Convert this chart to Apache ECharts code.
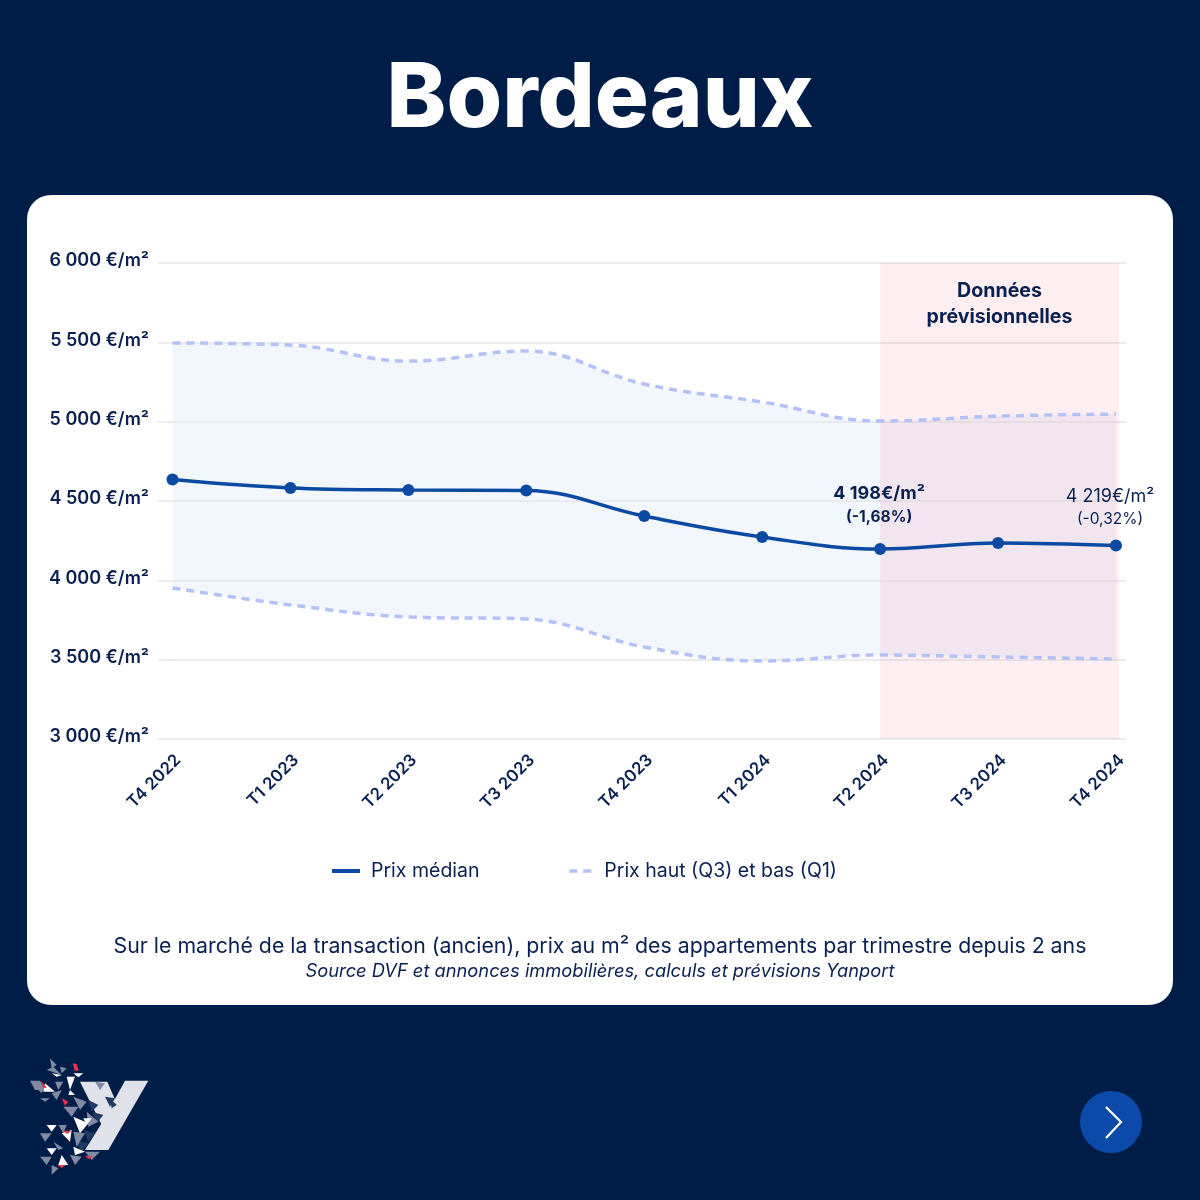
<!DOCTYPE html>
<html>
<head>
    <meta charset="utf-8">
    <title>Bordeaux</title>
    <script src="https://cdn.jsdelivr.net/npm/echarts@6/dist/echarts.min.js"></script>
    <style>
        html, body { margin: 0; padding: 0; background: #001d47; }
        #main { width: 1200px; height: 1200px; }
    </style>
</head>
<body>
    <div id="main"></div>
    <script type="text/javascript">
        var quarters = ['T4 2022', 'T1 2023', 'T2 2023', 'T3 2023', 'T4 2023', 'T1 2024', 'T2 2024', 'T3 2024', 'T4 2024'];
        var median = [4635, 4582, 4569, 4566, 4405, 4273, 4198, 4235, 4219];
        var q3 = [5496, 5483, 5382, 5445, 5237, 5124, 5004, 5035, 5048];
        var q1 = [3952, 3845, 3769, 3756, 3580, 3492, 3529, 3517, 3504];
        var yTicks = ['3 000', '3 500', '4 000', '4 500', '5 000', '5 500', '6 000'];
        var notes = { 6: ['4 198€/m²', '(-1,68%)'], 8: ['4 219€/m²', '(-0,32%)'] };

        var FONT = 'Inter';
        var NAVY = '#0a2050';

        function pairs(arr) {
            return arr.map(function (v, i) { return [i, v]; });
        }

        // median points, two of them carry a note
        var medianData = median.map(function (v, i) {
            var item = { value: [i, v] };
            if (notes[i]) {
                var bold = i === 6;
                item.label = {
                    show: true,
                    position: 'top',
                    distance: bold ? 15 : 9,
                    offset: [bold ? -1 : -6, 0],
                    formatter: '{a|' + notes[i][0] + '}\n{b|' + notes[i][1] + '}',
                    rich: {
                        a: { fontFamily: FONT, fontSize: 18, lineHeight: 24, color: NAVY, fontWeight: bold ? 700 : 400 },
                        b: { fontFamily: FONT, fontSize: 15.5, lineHeight: 22, color: NAVY, fontWeight: bold ? 700 : 400 }
                    }
                };
            }
            return item;
        });

        // logo, in zoom coordinates
        function logoPoly(points, fill) {
            return {
                type: 'polygon',
                shape: { points: points.map(function (p) { return [20 + p[0] / 3, 1040 + p[1] / 3]; }) },
                style: { fill: fill }
            };
        }
        var logoArms = [
            [[315, 122], [385, 122], [265, 330], [195, 330], [245, 250]],
            [[180, 125], [262, 125], [305, 225], [250, 265]]
        ];
        var logoDark = [
            [[255, 170], [285, 175], [270, 200]], [[205, 180], [235, 195], [215, 215]],
            [[270, 175], [290, 195], [275, 205]], [[215, 215], [250, 225], [230, 250]],
            [[190, 270], [225, 280], [205, 305]], [[165, 300], [205, 310], [185, 335]]
        ];
        var logoGrey = [
            [[90, 55], [110, 75], [95, 85]], [[80, 90], [125, 105], [100, 80]],
            [[30, 122], [60, 122], [75, 150], [45, 150]], [[105, 125], [130, 125], [115, 150]],
            [[120, 80], [140, 85], [125, 100]], [[95, 160], [125, 150], [110, 180]],
            [[60, 175], [90, 175], [75, 185]], [[160, 170], [200, 185], [180, 210]],
            [[130, 200], [175, 200], [155, 230]], [[200, 215], [235, 245], [205, 260]],
            [[160, 275], [195, 280], [170, 320]], [[60, 280], [95, 280], [75, 305]],
            [[115, 255], [140, 255], [130, 280]], [[100, 305], [130, 325], [115, 330]],
            [[60, 350], [95, 350], [80, 375]], [[150, 345], [185, 350], [165, 375]],
            [[195, 335], [240, 335], [215, 360]], [[95, 375], [115, 385], [95, 405]],
            [[45, 140], [75, 140], [65, 160]], [[225, 125], [255, 130], [240, 150]]
        ];
        var logoWhite = [
            [[95, 100], [125, 105], [110, 110]], [[160, 100], [190, 100], [175, 112]],
            [[140, 110], [165, 110], [150, 150]], [[75, 130], [105, 155], [70, 155]],
            [[160, 230], [205, 250], [180, 280]], [[80, 255], [110, 255], [95, 275]],
            [[125, 280], [155, 270], [150, 305]], [[80, 325], [110, 325], [95, 345]],
            [[125, 345], [145, 375], [115, 375]], [[150, 150], [165, 165], [145, 165]],
            [[190, 235], [215, 235], [200, 255]], [[160, 320], [195, 335], [165, 345]]
        ];
        var logoRed = [
            [[158, 70], [170, 72], [176, 92], [164, 92]], [[62, 122], [80, 142], [70, 146]],
            [[125, 175], [145, 185], [135, 197]], [[130, 272], [155, 272], [142, 282]],
            [[195, 348], [218, 348], [207, 358]], [[112, 375], [138, 375], [125, 384]]
        ];
        var logo = [];
        logoArms.forEach(function (p) { logo.push(logoPoly(p, '#dfe2e8')); });
        logoDark.forEach(function (p) { logo.push(logoPoly(p, '#1f3a63')); });
        logoGrey.forEach(function (p) { logo.push(logoPoly(p, '#7f8ba3')); });
        logoWhite.forEach(function (p) { logo.push(logoPoly(p, '#ffffff')); });
        logoRed.forEach(function (p) { logo.push(logoPoly(p, '#e8344e')); });

        var myChart = echarts.init(document.getElementById('main'));

        var option = {
            backgroundColor: '#001d47',
            animation: false,
            title: {
                text: 'Bordeaux',
                left: 'center',
                top: 50,
                textStyle: { fontFamily: FONT, fontSize: 90, fontWeight: 800, color: '#ffffff' }
            },
            grid: { left: 158, right: 74, top: 263, bottom: 461 },
            legend: {
                left: 325,
                top: 856,
                itemWidth: 28,
                itemHeight: 22,
                itemGap: 88,
                textStyle: { fontFamily: FONT, fontSize: 19.5, color: NAVY, fontWeight: 400 },
                data: [
                    { name: 'Prix médian', itemStyle: { opacity: 0 }, lineStyle: { width: 4 }, textStyle: { padding: [0, 0, 0, 6] } },
                    { name: 'Prix haut (Q3) et bas (Q1)', itemStyle: { opacity: 0 }, lineStyle: { width: 3.5 }, textStyle: { padding: [0, 0, 0, 2] } }
                ]
            },
            xAxis: {
                type: 'value',
                min: -0.123,
                max: 8.085,
                splitLine: { show: false },
                axisLine: { show: false },
                axisTick: { show: false },
                axisLabel: {
                    customValues: quarters.map(function (q, i) { return i; }),
                    formatter: function (v) { return quarters[v]; },
                    rotate: 45,
                    margin: 24,
                    padding: [0, -8, 0, 0],
                    fontFamily: FONT,
                    fontSize: 16.8,
                    fontWeight: 600,
                    color: NAVY
                }
            },
            yAxis: {
                type: 'value',
                min: 3000,
                max: 6000,
                interval: 500,
                z: 1.5,
                axisLine: { show: false },
                axisTick: { show: false },
                splitLine: { lineStyle: { color: '#e5e6ea', width: 1.5 } },
                axisLabel: {
                    formatter: function (v) { return yTicks[(v - 3000) / 500] + ' €/m²'; },
                    margin: 9,
                    verticalAlign: 'bottom',
                    padding: [0, 0, -7, 0],
                    fontFamily: FONT,
                    fontSize: 18,
                    fontWeight: 600,
                    color: NAVY
                }
            },
            series: [
                // band between Q1 and Q3: blue down from Q3, then white down from Q1
                {
                    name: 'bandTop',
                    type: 'line',
                    smooth: 0.4,
                    symbol: 'none',
                    z: 1,
                    lineStyle: { opacity: 0 },
                    areaStyle: { color: '#f2f6fd', opacity: 1, origin: 'start' },
                    data: pairs(q3)
                },
                {
                    name: 'bandBottom',
                    type: 'line',
                    smooth: 0.4,
                    symbol: 'none',
                    z: 1,
                    lineStyle: { opacity: 0 },
                    areaStyle: { color: '#ffffff', opacity: 1, origin: 'start' },
                    data: pairs(q1)
                },
                // forecast zone
                {
                    name: 'forecast',
                    type: 'line',
                    symbol: 'none',
                    data: [],
                    z: 3,
                    markArea: {
                        silent: true,
                        z: 3,
                        itemStyle: { color: 'rgba(238,80,95,0.09)' },
                        label: {
                            position: 'insideTop',
                            distance: 15,
                            formatter: 'Données\nprévisionnelles',
                            fontFamily: FONT,
                            fontSize: 19.6,
                            lineHeight: 26,
                            fontWeight: 700,
                            color: NAVY
                        },
                        data: [[{ xAxis: 6, yAxis: 6000 }, { xAxis: 8.025, yAxis: 3000 }]]
                    }
                },
                {
                    name: 'Prix haut (Q3) et bas (Q1)',
                    type: 'line',
                    smooth: 0.4,
                    symbol: 'none',
                    z: 4,
                    itemStyle: { color: '#b4c1f6' },
                    lineStyle: { color: '#b4c1f6', width: 3.5, type: [8, 6] },
                    data: pairs(q3)
                },
                {
                    name: 'Prix bas',
                    type: 'line',
                    smooth: 0.4,
                    symbol: 'none',
                    z: 4,
                    lineStyle: { color: '#b4c1f6', width: 3.5, type: [8, 6] },
                    data: pairs(q1)
                },
                {
                    name: 'Prix médian',
                    type: 'line',
                    smooth: 0.4,
                    symbol: 'circle',
                    symbolSize: 12,
                    showAllSymbol: true,
                    z: 5,
                    itemStyle: { color: '#0b4aa2' },
                    lineStyle: { color: '#0b4aa2', width: 3.5 },
                    data: medianData
                }
            ],
            graphic: [
                {
                    type: 'rect',
                    z: -1,
                    shape: { x: 27, y: 195, width: 1146, height: 810, r: 24 },
                    style: { fill: '#ffffff' }
                },
                {
                    type: 'text',
                    style: {
                        x: 600, y: 947, align: 'center', verticalAlign: 'middle',
                        text: 'Sur le marché de la transaction (ancien), prix au m² des appartements par trimestre depuis 2 ans',
                        font: '400 21.3px ' + FONT, fill: NAVY
                    }
                },
                {
                    type: 'text',
                    style: {
                        x: 600, y: 972, align: 'center', verticalAlign: 'middle',
                        text: 'Source DVF et annonces immobilières, calculs et prévisions Yanport',
                        font: 'italic 400 18.3px ' + FONT, fill: NAVY
                    }
                },
                { type: 'circle', shape: { cx: 1111, cy: 1122, r: 31 }, style: { fill: '#0b4aa8' } },
                {
                    type: 'polyline',
                    shape: { points: [[1106, 1107], [1121, 1122], [1106, 1138]] },
                    style: { stroke: '#ffffff', lineWidth: 2.2, fill: 'none' }
                },
                { type: 'group', children: logo }
            ]
        };
        myChart.setOption(option);
    </script>
</body>
</html>
